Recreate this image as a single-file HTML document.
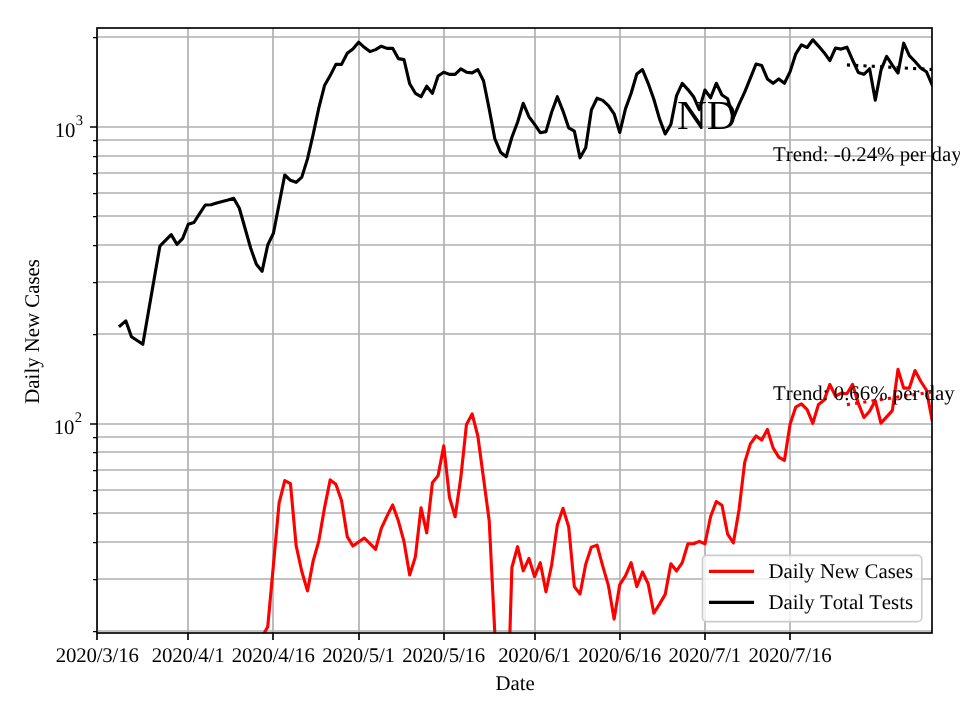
<!DOCTYPE html><html><head><meta charset="utf-8"><style>html,body{margin:0;padding:0;background:#fff;}svg{display:block;will-change:transform;}text{font-kerning:none;text-rendering:geometricPrecision;}</style></head><body>
<svg width="960" height="720" viewBox="0 0 960 720" font-family="'Liberation Serif', serif">
<rect width="960" height="720" fill="#fff"/>
<defs><clipPath id="ax"><rect x="97.00" y="28.00" width="835.00" height="605.00"/></clipPath></defs>
<path d="M97.00 631.00H932.00M97.00 579.00H932.00M97.00 542.00H932.00M97.00 513.00H932.00M97.00 490.00H932.00M97.00 470.00H932.00M97.00 452.00H932.00M97.00 437.00H932.00M97.00 424.00H932.00M97.00 334.00H932.00M97.00 282.00H932.00M97.00 245.00H932.00M97.00 216.00H932.00M97.00 193.00H932.00M97.00 173.00H932.00M97.00 156.00H932.00M97.00 140.00H932.00M97.00 127.00H932.00M97.00 37.00H932.00M97.00 28.00V633.00M188.00 28.00V633.00M273.00 28.00V633.00M359.00 28.00V633.00M444.00 28.00V633.00M535.00 28.00V633.00M620.00 28.00V633.00M705.00 28.00V633.00M790.00 28.00V633.00" stroke="#b0b0b0" stroke-width="1.667" fill="none" clip-path="url(#ax)"/>
<polyline points="256.38,700.00 262.06,637.00 267.74,626.70 273.42,565.00 279.10,503.00 284.77,480.60 290.45,483.70 296.13,545.60 301.81,571.50 307.49,590.90 313.16,560.90 318.84,540.80 324.52,507.80 330.20,479.90 335.88,484.20 341.55,500.70 347.23,536.60 352.91,546.00 358.59,542.00 364.27,538.00 369.94,543.70 375.62,549.40 381.30,528.30 386.98,516.10 392.66,505.00 398.33,520.80 404.01,541.70 409.69,575.00 415.37,556.90 421.05,507.80 426.72,532.80 432.40,482.80 438.08,475.60 443.76,445.80 449.44,497.20 455.11,516.70 460.79,477.80 466.47,424.40 472.15,413.90 477.83,436.00 483.50,478.00 489.18,520.50 494.86,634.00 500.54,700.00 506.22,754.00 511.89,567.50 517.57,546.70 523.25,570.80 528.93,558.30 534.61,576.70 540.28,562.70 545.96,591.70 551.64,565.00 557.32,525.00 563.00,508.30 568.67,526.70 574.35,586.60 580.03,594.00 585.71,564.20 591.39,547.10 597.06,545.10 602.74,566.10 608.42,585.60 614.10,619.10 619.78,584.60 625.45,575.90 631.13,562.60 636.81,586.60 642.49,572.00 648.17,583.70 653.84,613.20 659.52,604.10 665.20,594.40 670.88,563.80 676.56,571.00 682.23,562.60 687.91,543.80 693.59,543.80 699.27,541.40 704.95,543.80 710.62,516.50 716.30,501.50 721.98,505.20 727.66,534.20 733.34,543.00 739.01,510.00 744.69,462.40 750.37,443.90 756.05,436.00 761.73,440.00 767.40,429.40 773.08,447.90 778.76,457.10 784.44,460.30 790.12,424.10 795.79,407.00 801.47,403.80 807.15,409.60 812.83,423.30 818.51,404.40 824.18,400.00 829.86,384.40 835.54,396.20 841.22,393.10 846.90,393.75 852.57,384.40 858.25,403.10 863.93,417.50 869.61,411.25 875.29,400.60 880.96,423.10 886.64,416.90 892.32,410.60 898.00,369.40 903.68,388.10 909.35,388.10 915.03,370.60 920.71,381.25 926.39,390.00 932.07,420.00" fill="none" stroke="#ff0000" stroke-width="3.125" stroke-linejoin="round" stroke-linecap="square" clip-path="url(#ax)"/>
<polyline points="120.11,325.80 125.79,320.80 131.47,336.70 137.15,340.50 142.82,344.30 148.50,311.50 154.18,278.70 159.86,246.20 165.54,240.40 171.21,234.60 176.89,244.30 182.57,238.60 188.25,224.20 193.93,222.50 199.60,213.70 205.28,205.00 210.96,204.70 216.64,203.00 222.32,201.50 227.99,200.00 233.67,198.30 239.35,208.30 245.03,228.30 250.71,248.30 256.38,264.20 262.06,271.30 267.74,245.00 273.42,233.30 279.10,204.00 284.77,175.00 290.45,180.30 296.13,182.30 301.81,177.10 307.49,158.90 313.16,134.40 318.84,107.80 324.52,85.60 330.20,75.60 335.88,64.40 341.55,64.40 347.23,53.30 352.91,48.90 358.59,42.20 364.27,47.30 369.94,51.60 375.62,49.60 381.30,46.20 386.98,48.40 392.66,48.20 398.33,58.60 404.01,59.60 409.69,83.80 415.37,93.30 421.05,96.70 426.72,86.20 432.40,93.30 438.08,76.00 443.76,72.20 449.44,74.40 455.11,74.40 460.79,68.90 466.47,72.20 472.15,72.90 477.83,69.60 483.50,80.70 489.18,108.90 494.86,138.90 500.54,152.20 506.22,156.70 511.89,137.20 517.57,122.20 523.25,103.30 528.93,116.70 534.61,124.40 540.28,132.70 545.96,131.60 551.64,112.20 557.32,96.70 563.00,111.10 568.67,127.80 574.35,131.10 580.03,157.80 585.71,147.80 591.39,110.00 597.06,98.20 602.74,100.40 608.42,105.60 614.10,113.80 619.78,132.50 625.45,108.90 631.13,93.30 636.81,74.00 642.49,69.60 648.17,83.30 653.84,99.30 659.52,118.90 665.20,134.00 670.88,124.40 676.56,95.60 682.23,83.30 687.91,89.60 693.59,96.70 699.27,109.60 704.95,90.00 710.62,97.80 716.30,83.30 721.98,95.00 727.66,98.70 733.34,117.80 739.01,104.40 744.69,92.20 750.37,78.20 756.05,64.00 761.73,65.60 767.40,78.90 773.08,83.30 778.76,78.90 784.44,83.30 790.12,71.60 795.79,53.80 801.47,44.80 807.15,47.50 812.83,39.80 818.51,46.10 824.18,52.70 829.86,60.70 835.54,48.00 841.22,49.10 846.90,47.20 852.57,60.00 858.25,72.40 863.93,74.30 869.61,68.75 875.29,100.10 880.96,70.20 886.64,56.40 892.32,65.10 898.00,73.10 903.68,43.20 909.35,55.60 915.03,61.50 920.71,68.00 926.39,71.70 932.07,84.80" fill="none" stroke="#000000" stroke-width="3.125" stroke-linejoin="round" stroke-linecap="square" clip-path="url(#ax)"/>
<line x1="846.90" y1="64.9" x2="932.07" y2="69.5" stroke="#000" stroke-width="3.125" stroke-dasharray="3.125 5.156" clip-path="url(#ax)"/>
<line x1="846.90" y1="404.6" x2="932.07" y2="392.0" stroke="#ff0000" stroke-width="3.125" stroke-dasharray="3.125 5.156" clip-path="url(#ax)"/>
<rect x="97.00" y="28.00" width="835.00" height="605.00" fill="none" stroke="#000" stroke-width="1.667" stroke-linejoin="miter"/>
<path d="M97.00 633.00v7.0M188.00 633.00v7.0M273.00 633.00v7.0M359.00 633.00v7.0M444.00 633.00v7.0M535.00 633.00v7.0M620.00 633.00v7.0M705.00 633.00v7.0M790.00 633.00v7.0M97.00 424.00h-7.0M97.00 127.00h-7.0" stroke="#000" stroke-width="1.667" fill="none"/>
<path d="M97.00 631.50h-4.0M97.00 579.50h-4.0M97.00 542.50h-4.0M97.00 513.50h-4.0M97.00 490.50h-4.0M97.00 470.50h-4.0M97.00 452.50h-4.0M97.00 437.50h-4.0M97.00 334.50h-4.0M97.00 282.50h-4.0M97.00 245.50h-4.0M97.00 216.50h-4.0M97.00 193.50h-4.0M97.00 173.50h-4.0M97.00 156.50h-4.0M97.00 140.50h-4.0M97.00 37.50h-4.0" stroke="#000" stroke-width="1.25" fill="none"/>
<text x="97.25" y="662.1" font-size="20.83" text-anchor="middle" letter-spacing="-0.18" fill="#000">2020/3/16</text>
<text x="188.10" y="662.1" font-size="20.83" text-anchor="middle" letter-spacing="-0.18" fill="#000">2020/4/1</text>
<text x="273.27" y="662.1" font-size="20.83" text-anchor="middle" letter-spacing="-0.18" fill="#000">2020/4/16</text>
<text x="358.44" y="662.1" font-size="20.83" text-anchor="middle" letter-spacing="-0.18" fill="#000">2020/5/1</text>
<text x="443.61" y="662.1" font-size="20.83" text-anchor="middle" letter-spacing="-0.18" fill="#000">2020/5/16</text>
<text x="534.46" y="662.1" font-size="20.83" text-anchor="middle" letter-spacing="-0.18" fill="#000">2020/6/1</text>
<text x="619.63" y="662.1" font-size="20.83" text-anchor="middle" letter-spacing="-0.18" fill="#000">2020/6/16</text>
<text x="704.80" y="662.1" font-size="20.83" text-anchor="middle" letter-spacing="-0.18" fill="#000">2020/7/1</text>
<text x="789.97" y="662.1" font-size="20.83" text-anchor="middle" letter-spacing="-0.18" fill="#000">2020/7/16</text>
<text x="54.75" y="136.8" font-size="20.83" fill="#000">1</text><text x="65.05" y="136.8" font-size="20.83" fill="#000">0</text><text x="75.7" y="124.7" font-size="14.58" fill="#000">3</text>
<text x="53.7" y="433.8" font-size="20.83" fill="#000">1</text><text x="64.1" y="433.8" font-size="20.83" fill="#000">0</text><text x="74.8" y="422.0" font-size="14.58" fill="#000">2</text>
<text x="515.2" y="689.8" font-size="20.83" text-anchor="middle" fill="#000">Date</text>
<text transform="translate(38.8 331.4) rotate(-90)" font-size="20.83" text-anchor="middle" fill="#000">Daily New Cases</text>
<text x="676.9" y="129.0" font-size="41.4" fill="#000">ND</text>
<text x="773" y="160.7" font-size="20.83" fill="#000">Trend: -0.24% per day</text>
<text x="773" y="399.8" font-size="20.83" fill="#000">Trend: 0.66% per day</text>
<rect x="702.5" y="555.3" width="219.3" height="66.4" rx="4.2" ry="4.2" fill="#fff" fill-opacity="0.8" stroke="#cccccc" stroke-width="1.667"/>
<line x1="710.5" y1="571.4" x2="752.5" y2="571.4" stroke="#ff0000" stroke-width="3.125" stroke-linecap="square"/>
<line x1="710.5" y1="602.4" x2="752.5" y2="602.4" stroke="#000" stroke-width="3.125" stroke-linecap="square"/>
<text x="768.5" y="577.8" font-size="20.83" fill="#000">Daily New Cases</text>
<text x="768.5" y="608.8" font-size="20.83" fill="#000">Daily Total Tests</text>
</svg></body></html>
